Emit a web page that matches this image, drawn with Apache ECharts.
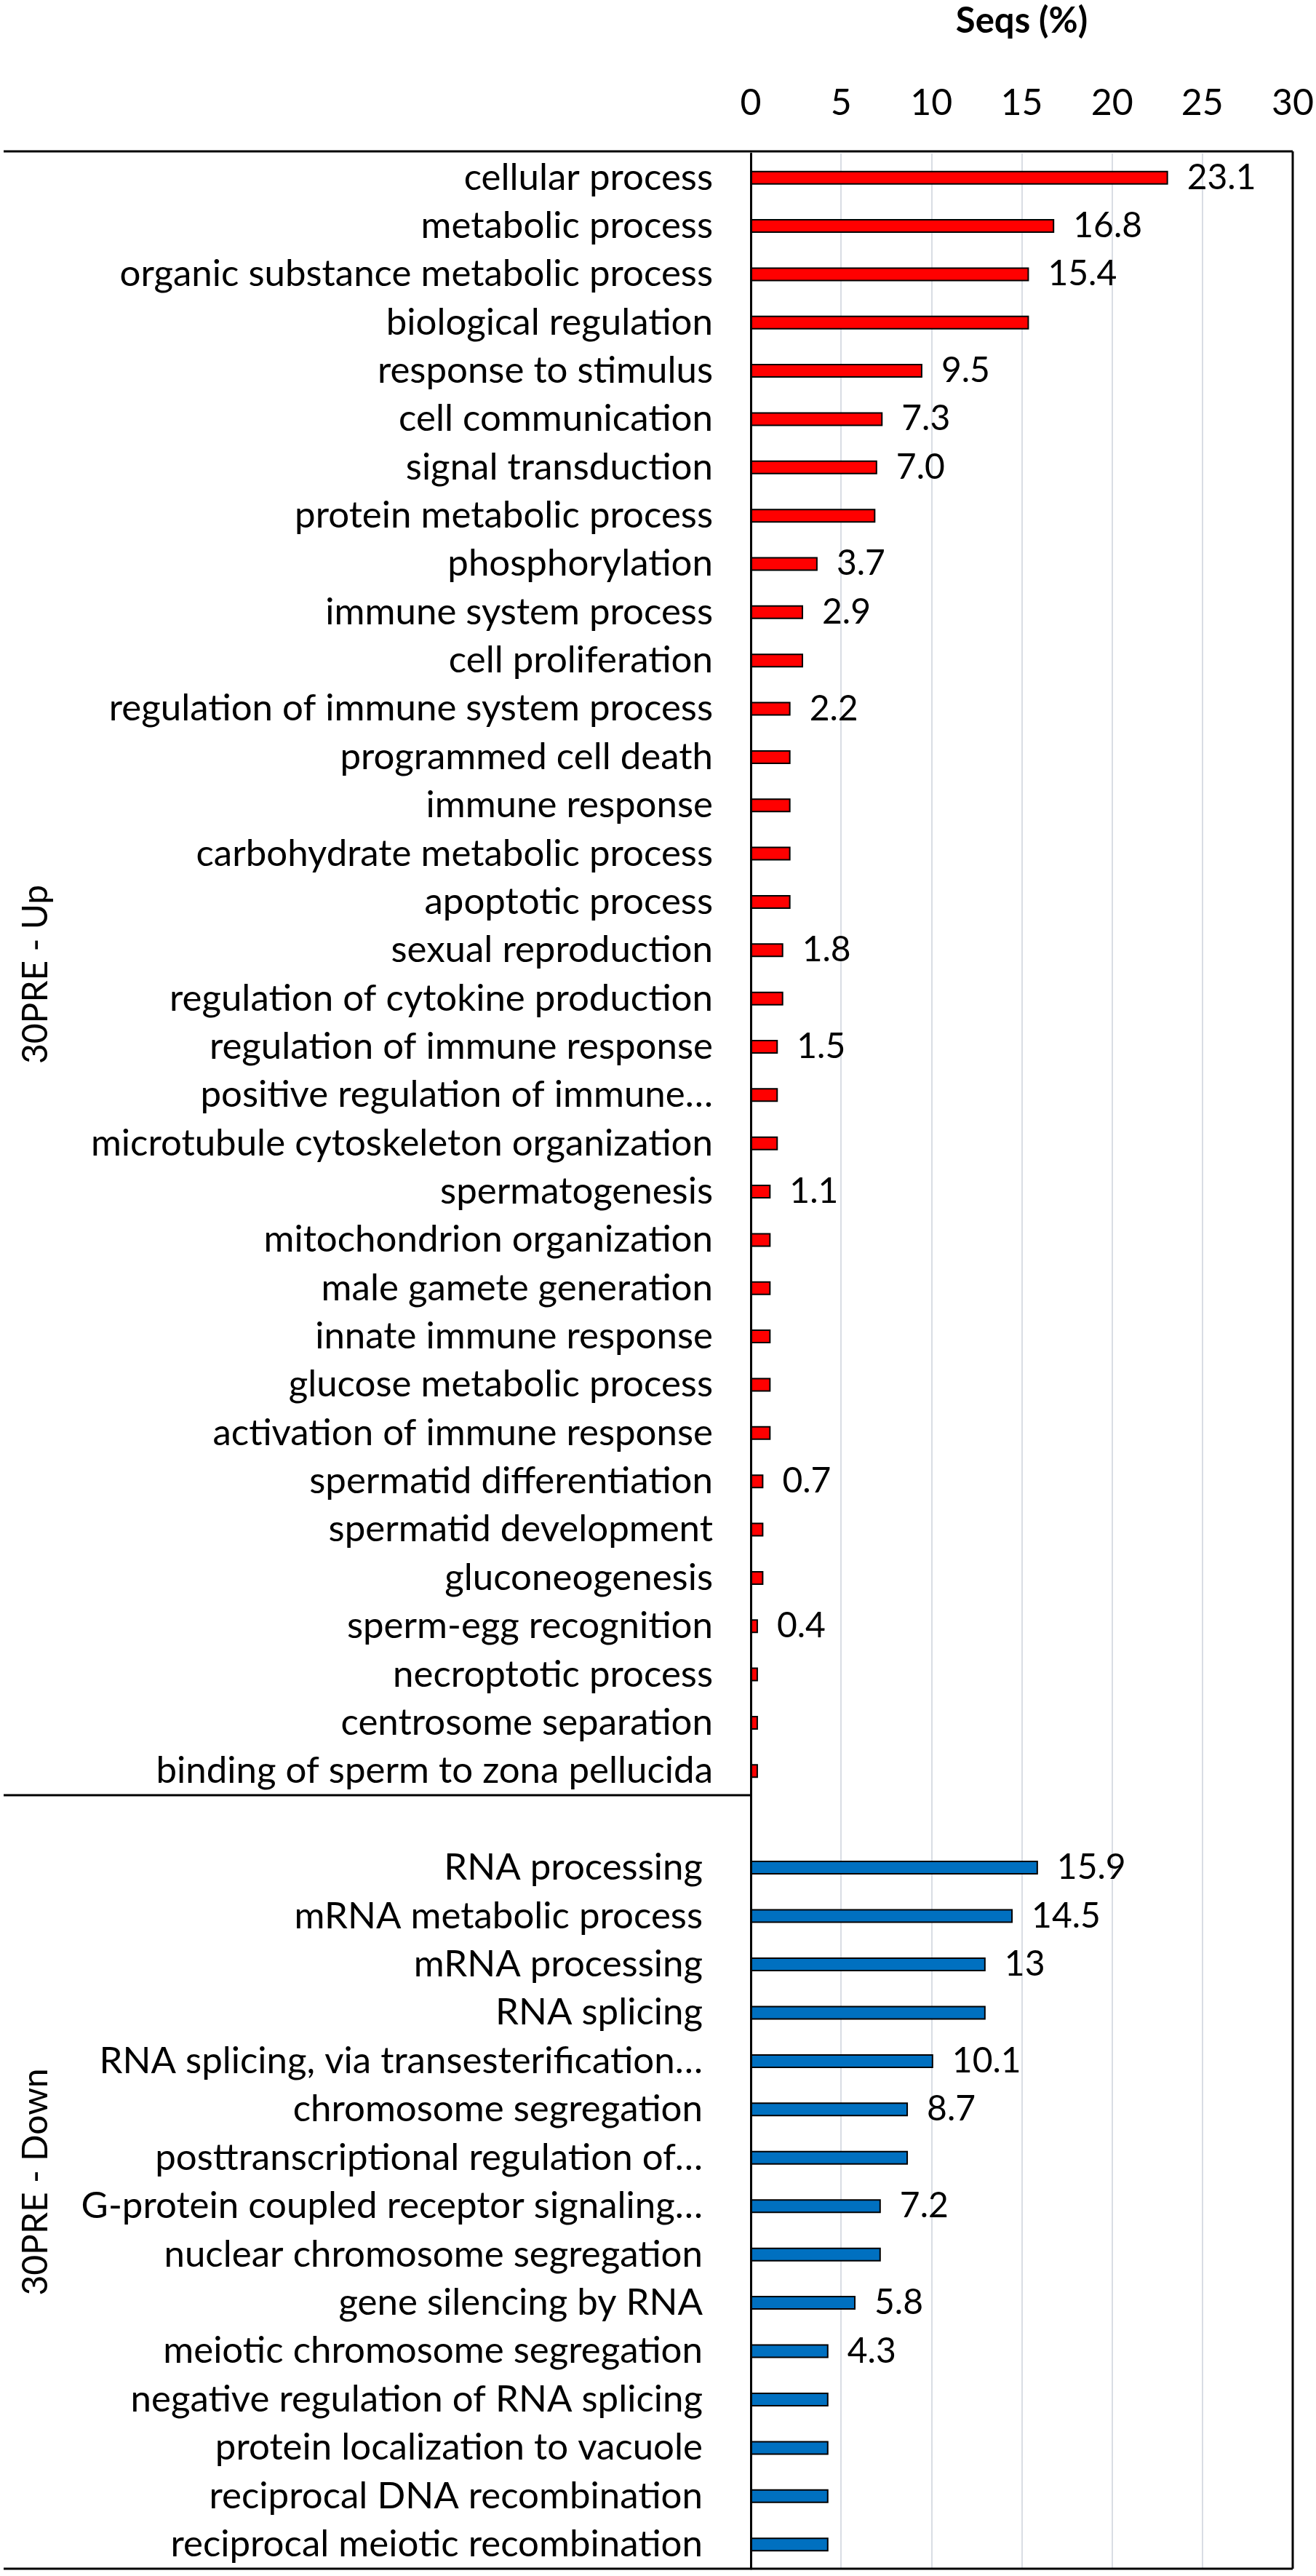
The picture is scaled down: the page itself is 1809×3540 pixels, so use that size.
<!DOCTYPE html>
<html>
<head>
    <meta charset="utf-8">
    <script src="https://cdn.jsdelivr.net/npm/echarts@6/dist/echarts.min.js"></script>
    <title>Seqs (%)</title>
    <style>
        html, body { margin: 0; padding: 0; background: #fff; }
        #main { width: 1809px; height: 3540px; }
    </style>
</head>
<body>
    <div id="main"></div>
    <script>
        // 30PRE - Up
        const upCategories = [
            'cellular process', 'metabolic process', 'organic substance metabolic process',
            'biological regulation', 'response to stimulus', 'cell communication',
            'signal transduction', 'protein metabolic process', 'phosphorylation',
            'immune system process', 'cell proliferation', 'regulation of immune system process',
            'programmed cell death', 'immune response', 'carbohydrate metabolic process',
            'apoptotic process', 'sexual reproduction', 'regulation of cytokine production',
            'regulation of immune response', 'positive regulation of immune…',
            'microtubule cytoskeleton organization', 'spermatogenesis', 'mitochondrion organization',
            'male gamete generation', 'innate immune response', 'glucose metabolic process',
            'activation of immune response', 'spermatid differentiation', 'spermatid development',
            'gluconeogenesis', 'sperm-egg recognition', 'necroptotic process',
            'centrosome separation', 'binding of sperm to zona pellucida'
        ];
        const upValues = [
            23.1, 16.8, 15.4, 15.4, 9.5, 7.3, 7.0, 6.9, 3.7, 2.9, 2.9, 2.2,
            2.2, 2.2, 2.2, 2.2, 1.8, 1.8, 1.5, 1.5, 1.5, 1.1, 1.1, 1.1,
            1.1, 1.1, 1.1, 0.7, 0.7, 0.7, 0.4, 0.4, 0.4, 0.4
        ];
        const upLabels = [
            '23.1', '16.8', '15.4', null, '9.5', '7.3', '7.0', null, '3.7', '2.9', null, '2.2',
            null, null, null, null, '1.8', null, '1.5', null, null, '1.1', null, null,
            null, null, null, '0.7', null, null, '0.4', null, null, null
        ];

        // 30PRE - Down (first slot is the empty row under the separator)
        const downCategories = [
            '', 'RNA processing', 'mRNA metabolic process', 'mRNA processing', 'RNA splicing',
            'RNA splicing, via transesterification…', 'chromosome segregation',
            'posttranscriptional regulation of…', 'G-protein coupled receptor signaling…',
            'nuclear chromosome segregation', 'gene silencing by RNA', 'meiotic chromosome segregation',
            'negative regulation of RNA splicing', 'protein localization to vacuole',
            'reciprocal DNA recombination', 'reciprocal meiotic recombination'
        ];
        const downValues = [null, 15.9, 14.5, 13, 13, 10.1, 8.7, 8.7, 7.2, 7.2, 5.8, 4.3, 4.3, 4.3, 4.3, 4.3];
        const downLabels = [null, '15.9', '14.5', '13', null, '10.1', '8.7', null, '7.2', null, '5.8', '4.3', null, null, null, null];

        const xTicks = { min: 0, max: 30, interval: 5 };

        // layout
        const FONT = 'Lato, "Open Sans", sans-serif';
        const L = 1032, R = 1777, TOP = 208, ROW = 66.44;
        const SPLIT = TOP + ROW * upCategories.length;
        const BOTTOM = SPLIT + ROW * downCategories.length;
        const FRAME_LEFT = 5;

        const myChart = echarts.init(document.getElementById('main'), null, { renderer: 'canvas' });

        const makeData = (values, labels) => values.map((v, i) => ({
            value: v,
            label: { show: labels[i] !== null, formatter: labels[i] || '' }
        }));

        const barSeries = (idx, values, labels, color) => ({
            type: 'bar',
            xAxisIndex: idx,
            yAxisIndex: idx,
            barWidth: 19,
            data: makeData(values, labels),
            itemStyle: { color: color, borderColor: '#000', borderWidth: 2 },
            label: {
                position: 'right',
                distance: 26,
                color: '#000',
                fontSize: 48,
                fontFamily: FONT
            },
            silent: true
        });

        const xAxisBase = (idx) => ({
            type: 'value',
            gridIndex: idx,
            min: xTicks.min,
            max: xTicks.max,
            interval: xTicks.interval,
            position: 'top',
            axisLine: { show: false },
            axisTick: { show: false },
            splitLine: { show: true, lineStyle: { color: '#d9dde4', width: 2 } },
            axisLabel: { show: idx === 0, color: '#000', fontSize: 50, fontFamily: FONT, margin: 44 }
        });

        const yAxisBase = (idx, cats, margin, name) => ({
            type: 'category',
            gridIndex: idx,
            data: cats,
            inverse: true,
            axisLine: { show: true, lineStyle: { color: '#000', width: 3 } },
            axisTick: { show: false },
            axisLabel: { color: '#000', fontSize: 51, fontFamily: FONT, margin: margin, interval: 0 },
            name: name,
            nameLocation: 'middle',
            nameRotate: 90,
            nameGap: 958,
            nameTextStyle: { color: '#000', fontSize: 48, fontFamily: FONT }
        });

        const hLine = (x1, x2, y) => ({
            type: 'line', z: 100, silent: true,
            shape: { x1: x1, y1: y, x2: x2, y2: y },
            style: { stroke: '#000', lineWidth: 3 }
        });

        const option = {
            backgroundColor: '#FFFFFF',
            animation: false,
            grid: [
                { left: L, top: TOP, width: R - L, height: SPLIT - TOP, containLabel: false },
                { left: L, top: SPLIT, width: R - L, height: BOTTOM - SPLIT, containLabel: false }
            ],
            xAxis: [
                Object.assign(xAxisBase(0), {
                    name: 'Seqs (%)',
                    nameLocation: 'middle',
                    nameGap: 157,
                    nameTextStyle: { color: '#000', fontSize: 49, fontWeight: 'bold', fontFamily: FONT }
                }),
                xAxisBase(1)
            ],
            yAxis: [
                yAxisBase(0, upCategories, 52, '30PRE - Up'),
                yAxisBase(1, downCategories, 66, '30PRE - Down')
            ],
            series: [
                barSeries(0, upValues, upLabels, '#FF0000'),
                barSeries(1, downValues, downLabels, '#0070C0')
            ],
            graphic: [
                hLine(FRAME_LEFT, R, TOP),
                hLine(FRAME_LEFT, L, SPLIT),
                hLine(FRAME_LEFT, R, BOTTOM),
                {
                    type: 'line', z: 100, silent: true,
                    shape: { x1: R, y1: TOP, x2: R, y2: BOTTOM },
                    style: { stroke: '#000', lineWidth: 3 }
                }
            ]
        };

        myChart.setOption(option);
    </script>
</body>
</html>
